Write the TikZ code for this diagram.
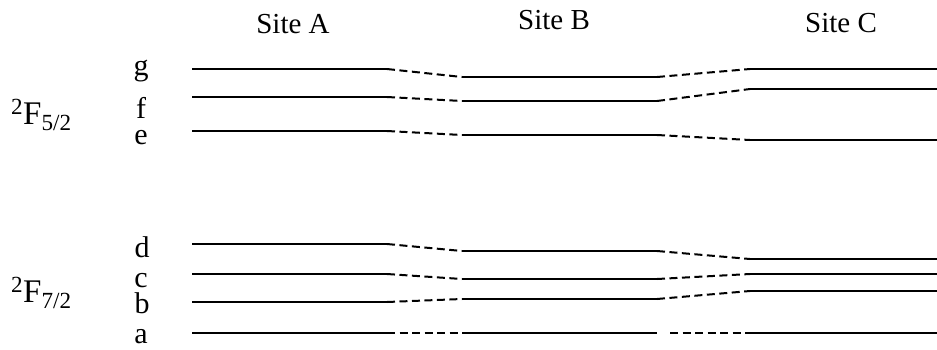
\documentclass[tikz,border=0pt]{standalone}
\usepackage{fontspec}
\setmainfont{Liberation Serif}
\begin{document}
\begin{tikzpicture}[x=1pt,y=-1pt,
  levelline/.style={line width=2.2pt},
  linkline/.style={line width=2pt, dash pattern=on 8pt off 4.5pt},
  lbl/.style={anchor=base, inner sep=0pt, font=\fontsize{29}{34}\selectfont},
  letterlbl/.style={anchor=base, inner sep=0pt, font=\fontsize{30}{34}\selectfont},
  termlbl/.style={anchor=base west, inner sep=0pt, font=\fontsize{33}{38}\selectfont}]
\useasboundingbox (0,0) rectangle (937,349);

% column titles
\node[lbl] (siteA) at (293,33) {Site A};
\node[lbl] (siteB) at (554,29) {Site B};
\node[lbl] (siteC) at (841,32) {Site C};

% multiplet labels
\node[termlbl] (F52) at (11,124) {\textsuperscript{2}F\textsubscript{5/2}};
\node[termlbl] (F72) at (11,302) {\textsuperscript{2}F\textsubscript{7/2}};

% level letters
\node[letterlbl] (lg) at (141,75) {g};
\node[letterlbl] (lf) at (141,118) {f};
\node[letterlbl] (le) at (141,144) {e};
\node[letterlbl] (ld) at (142,257) {d};
\node[letterlbl] (lc) at (141,287) {c};
\node[letterlbl] (lb) at (142,313) {b};
\node[letterlbl] (la) at (141,343) {a};

% levels: name / y in site A / site B / site C
\foreach \n/\ya/\yb/\yc in {g/69/77/69, f/97/101/89, e/131/135/140,
                            d/244/251/259, c/274/279/274, b/302/299/291, a/333/333/333}{
  \coordinate (\n A1) at (192,\ya);
  \coordinate (\n A2) at (387,\ya);
  \coordinate (\n B1) at (462,\yb);
  \coordinate (\n B2) at (657,\yb);
  \coordinate (\n C1) at (750,\yc);
  \coordinate (\n C2) at (937,\yc);
  \draw[levelline] (\n A1) -- (\n A2);
  \draw[levelline] (\n B1) -- (\n B2);
  \draw[levelline] (\n C1) -- (\n C2);
  \draw[linkline] (\n A2) -- (\n B1);
}
\foreach \n in {g,f,e,d,c,b}{
  \draw[linkline] (\n B2) -- (\n C1);
}
\coordinate (aBgap) at (670,333);
\draw[linkline] (aBgap) -- (aC1);
\end{tikzpicture}
\end{document}
